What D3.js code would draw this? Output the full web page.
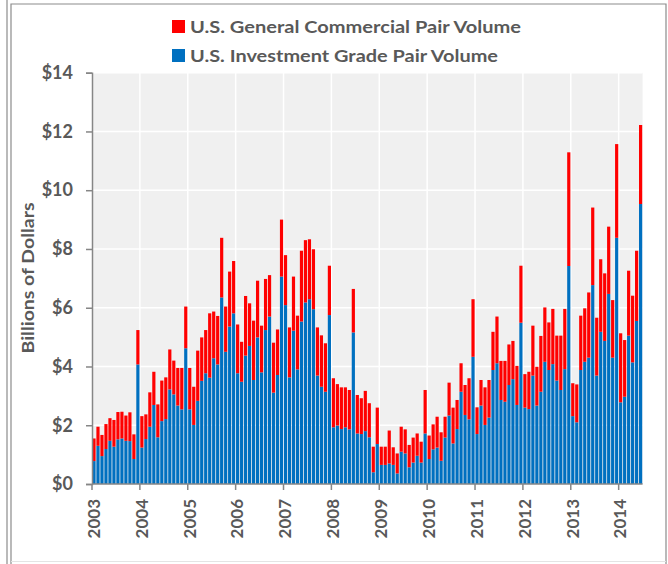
<!DOCTYPE html>
<html>
<head>
<meta charset="utf-8">
<script src="https://cdn.jsdelivr.net/npm/d3@7"></script>
<style>
  body { margin: 0; background: #fff; }
  text { font-family: Lato, "Open Sans", sans-serif; font-weight: bold; fill: #595959; }
</style>
</head>
<body>
<script>
// monthly pair volume, Jan 2003 .. Jun 2014 (billions)
const yearLabels = ["2003","2004","2005","2006","2007","2008","2009","2010","2011","2012","2013","2014"];

const investmentGrade = [
  0.78,1.30,0.95,1.19,1.47,1.27,1.52,1.55,1.47,1.46,0.85,4.07,
  1.24,1.53,1.95,2.69,1.59,2.14,2.21,3.22,3.05,2.67,2.54,4.62,
  2.54,2.01,2.83,3.51,3.77,3.62,4.28,4.07,6.35,4.50,5.36,5.81,
  3.77,3.48,4.37,4.70,3.54,4.99,3.80,5.24,5.70,3.11,3.71,7.06,
  6.09,3.63,5.22,3.90,5.53,6.18,6.29,5.95,3.69,3.31,3.14,5.75,
  1.93,1.99,1.87,1.93,1.86,5.16,1.72,1.70,1.80,1.59,0.40,1.36,
  0.65,0.65,0.70,0.65,0.36,1.10,1.04,0.57,0.73,0.96,0.73,1.72,
  0.85,1.18,1.24,0.79,1.58,2.33,1.38,1.87,3.14,2.35,2.20,4.33,
  1.70,2.67,2.01,2.26,3.88,4.11,2.86,2.80,3.37,3.57,2.69,5.49,
  2.60,2.55,3.69,2.67,3.14,4.16,3.88,4.08,3.52,3.20,3.91,7.42,
  2.31,2.10,3.88,4.16,4.30,6.77,3.69,5.18,4.87,6.47,4.30,8.38,
  2.78,2.97,5.05,4.14,5.55,9.53
];

const generalCommercial = [
  0.77,0.65,0.72,0.85,0.77,0.91,0.93,0.91,0.86,0.98,0.84,1.17,
  1.07,0.84,1.17,1.13,1.12,1.38,1.42,1.36,1.15,1.28,1.41,1.42,
  1.41,1.30,1.71,1.48,1.47,2.19,1.59,1.65,2.03,1.54,1.87,1.78,
  1.66,1.36,2.03,1.45,2.02,1.93,1.59,1.74,1.41,1.70,1.55,1.94,
  1.70,1.70,1.84,1.83,2.41,2.12,2.04,2.04,1.64,1.75,1.65,1.68,
  1.67,1.41,1.42,1.36,1.34,1.48,1.31,1.22,1.37,1.16,0.87,1.24,
  0.62,0.62,1.12,0.60,0.68,0.85,0.82,0.76,0.85,0.76,0.71,1.48,
  0.80,0.85,1.05,0.97,0.71,1.12,1.22,0.99,0.97,1.02,1.40,1.96,
  0.91,0.87,1.28,1.28,1.30,1.59,1.33,1.39,1.38,1.30,1.33,1.94,
  1.14,1.27,1.70,1.32,1.90,1.85,1.62,1.88,1.53,1.85,2.05,3.87,
  1.12,1.29,1.85,1.82,2.22,2.64,1.97,2.47,2.30,2.29,1.96,3.19,
  2.35,1.93,2.21,2.27,2.39,2.69
];

const yTicks = [0, 2, 4, 6, 8, 10, 12, 14];

const seriesNames = ["U.S. General Commercial Pair Volume", "U.S. Investment Grade Pair Volume"];
const colors = { ig: "#0070C0", gc: "#FF0000" };

const width = 668, height = 564;
const plotLeft = 92, plotRight = 642.6, plotTop = 72.7, plotBottom = 484;

const svg = d3.select("body").append("svg")
    .attr("width", width)
    .attr("height", height);

// outer frame: grey top/right, faint bottom, double line on the left
const frame = svg.append("g").attr("fill", "none").attr("stroke-width", 1.2);
frame.append("path")
    .attr("d", "M11,564 V4 H666 V564")
    .attr("stroke", "#8c8c8c");
frame.append("line")
    .attr("x1", 11).attr("x2", 666).attr("y1", 561.5).attr("y2", 561.5)
    .attr("stroke", "#e4e4e4");
frame.append("line")
    .attr("x1", 7).attr("x2", 7).attr("y1", 0).attr("y2", height)
    .attr("stroke", "#8c8c8c");

const rows = investmentGrade.map((v, i) => ({ i: i, ig: v, gc: generalCommercial[i] }));

const x = d3.scaleBand()
    .domain(rows.map(d => d.i))
    .range([plotLeft, plotRight])
    .paddingInner(0.2)
    .paddingOuter(0.1);

const y = d3.scaleLinear().domain([0, 14]).range([plotBottom, plotTop]);

// boundary of month i (left edge of its slot)
const edge = i => x(i) - x.step() * 0.1;

// plot background
svg.append("rect")
    .attr("x", plotLeft).attr("y", plotTop)
    .attr("width", plotRight - plotLeft).attr("height", plotBottom - plotTop)
    .attr("fill", "#f0f0f0");

// grid
svg.append("g").selectAll("line")
    .data(yTicks.slice(1))
    .enter().append("line")
    .attr("x1", plotLeft).attr("x2", plotRight)
    .attr("y1", d => y(d)).attr("y2", d => y(d))
    .attr("stroke", "#fff").attr("stroke-width", 1.5);

svg.append("g").selectAll("line")
    .data(yearLabels.slice(1))
    .enter().append("line")
    .attr("x1", (d, k) => edge((k + 1) * 12)).attr("x2", (d, k) => edge((k + 1) * 12))
    .attr("y1", plotTop).attr("y2", plotBottom)
    .attr("stroke", "#fff").attr("stroke-width", 1.5);

// stacked bars
const stack = d3.stack().keys(["ig", "gc"])(rows);

svg.append("g").selectAll("g")
    .data(stack)
    .enter().append("g")
    .attr("fill", d => colors[d.key])
    .selectAll("rect")
    .data(d => d)
    .enter().append("rect")
    .attr("x", d => x(d.data.i))
    .attr("width", x.bandwidth())
    .attr("y", d => y(d[1]))
    .attr("height", d => y(d[0]) - y(d[1]));

// y axis
const yAxis = svg.append("g")
    .attr("transform", `translate(${plotLeft},0)`)
    .call(d3.axisLeft(y).tickValues(yTicks).tickFormat(d => "$" + d).tickSize(6).tickPadding(13));
yAxis.select(".domain").attr("stroke", "#868686").attr("stroke-width", 1.5);
yAxis.selectAll(".tick line").attr("stroke", "#868686").attr("stroke-width", 1.5);
yAxis.selectAll(".tick text")
    .attr("font-family", "Lato, sans-serif").attr("font-size", 18).attr("fill", "#595959");

// x axis (year ticks at January boundaries)
const xg = svg.append("g");
xg.append("line")
    .attr("x1", plotLeft).attr("x2", plotRight)
    .attr("y1", plotBottom).attr("y2", plotBottom)
    .attr("stroke", "#868686").attr("stroke-width", 1.5);
xg.selectAll("line.t")
    .data(yearLabels)
    .enter().append("line")
    .attr("class", "t")
    .attr("x1", (d, k) => edge(k * 12)).attr("x2", (d, k) => edge(k * 12))
    .attr("y1", plotBottom).attr("y2", plotBottom + 6)
    .attr("stroke", "#868686").attr("stroke-width", 1.5);
xg.selectAll("text")
    .data(yearLabels)
    .enter().append("text")
    .attr("transform", (d, k) => `translate(${edge(k * 12)},${plotBottom + 15}) rotate(-90)`)
    .attr("text-anchor", "end")
    .attr("dy", "0.46em")
    .attr("font-size", 17)
    .text(d => d);

// y title
svg.append("text")
    .attr("transform", "translate(34,278) rotate(-90)")
    .attr("text-anchor", "middle")
    .attr("font-size", 17)
    .attr("textLength", 151)
    .attr("lengthAdjust", "spacingAndGlyphs")
    .text("Billions of Dollars");

// legend
const legend = svg.append("g");
const legendItems = [
  { name: seriesNames[0], color: colors.gc, y: 33, len: 331 },
  { name: seriesNames[1], color: colors.ig, y: 62, len: 308 }
];
legend.selectAll("rect")
    .data(legendItems)
    .enter().append("rect")
    .attr("x", 172).attr("y", d => d.y - 13)
    .attr("width", 13).attr("height", 13)
    .attr("fill", d => d.color);
legend.selectAll("text")
    .data(legendItems)
    .enter().append("text")
    .attr("x", 190).attr("y", d => d.y)
    .attr("font-size", 17)
    .attr("textLength", d => d.len)
    .attr("lengthAdjust", "spacingAndGlyphs")
    .text(d => d.name);
</script>
</body>
</html>
